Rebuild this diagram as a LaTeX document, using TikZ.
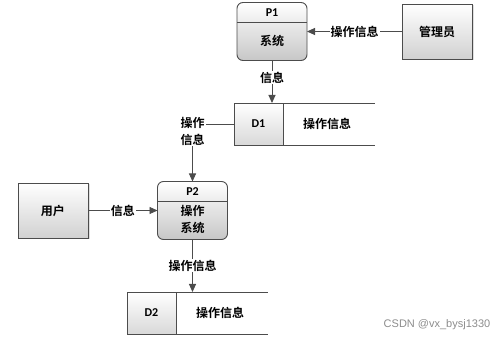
\documentclass[tikz,border=0pt]{standalone}
\usepackage{fontspec}
\newfontfamily\cjk{Noto Sans CJK SC Bold}
\newfontfamily\lat{Carlito}
\newfontfamily\wmfont{Liberation Sans}
\usetikzlibrary{arrows.meta, shadows}

\begin{document}
\begin{tikzpicture}[x=1pt, y=-1pt, font=\cjk\fontsize{12}{17}\selectfont]
\useasboundingbox (0,0) rectangle (499,347);
% styles
\tikzset{wire/.style={draw=black!70, line width=0.9pt},
         proc/.style={wire, rounded corners=6pt, top color=white, bottom color=black!22,
                      minimum width=70, minimum height=58, inner sep=0, outer sep=0},
         head/.style={minimum width=70, minimum height=20, inner sep=0, outer sep=0,
                      font=\lat\bfseries\fontsize{12}{14}\selectfont},
         ext/.style={wire, top color=white, bottom color=black!18, minimum width=70,
                     minimum height=55, outer sep=0,
                     drop shadow={opacity=0.25, shadow xshift=1.5pt, shadow yshift=-1.5pt}},
         cell/.style={wire, top color=white, bottom color=black!15, minimum width=49,
                      minimum height=42, outer sep=0, font=\lat\bfseries\fontsize{12}{14}\selectfont,
                      drop shadow={opacity=0.2, shadow xshift=1.2pt, shadow yshift=-1.2pt}},
         flow/.style={wire, -{Triangle[length=8pt, width=7pt]}},
         lbl/.style={fill=white, inner sep=1pt}}
% \procbox{name}{x}{y}{id}{text}
\newcommand{\procbox}[5]{\node[proc] (#1) at (#2,#3) {};
  \node[head, anchor=north] (#1h) at (#1.north) {#4};
  \draw[wire] (#1h.south west) -- (#1h.south east);
  \node[align=center] (#1b) at (#2,#3+9) {#5};}
% \datastore{name}{left}{top}{id}{text}
\newcommand{\datastore}[5]{\node[cell, anchor=north west] (#1) at (#2,#3) {#4};
  \draw[wire] (#1.north east) -- ++(92,0);
  \draw[wire] (#1.south east) -- ++(92,0);
  \node (#1t) at (#2+93,#3+21) {#5};}

% ===== processes
\procbox{p1}{272}{31.5}{P1}{系统}
\procbox{p2}{192.5}{210.5}{P2}{操作\\系统}

% ===== external entities
\node[ext] (gly) at (437,31.5) {管理员};
\node[ext] (yh) at (53,210.5) {用户};

% ===== data stores
\datastore{d1}{234}{103}{D1}{操作信息}
\datastore{d2}{127}{292}{D2}{操作信息}

% ---- flows
\draw[flow] (gly.west) -- node[lbl] {操作信息} (p1.east);
\draw[flow] (p1.south) -- node[lbl, yshift=4pt] {信息} (p1.south |- d1.north);
\draw[flow] (d1.west) -| node[lbl, pos=0.5, anchor=north, yshift=8.5pt, align=center] {操作\\信息} (p2.north);
\draw[flow] (yh.east) -- node[lbl] {信息} (p2.west);
\draw[flow] (p2.south) -- node[lbl] {操作信息} (p2.south |- d2.north);

% ---- watermark
\node[font=\wmfont\fontsize{11}{13}\selectfont, text=black!45] (wm) at (437,325) {CSDN @vx\_bysj1330};
\end{tikzpicture}
\end{document}
